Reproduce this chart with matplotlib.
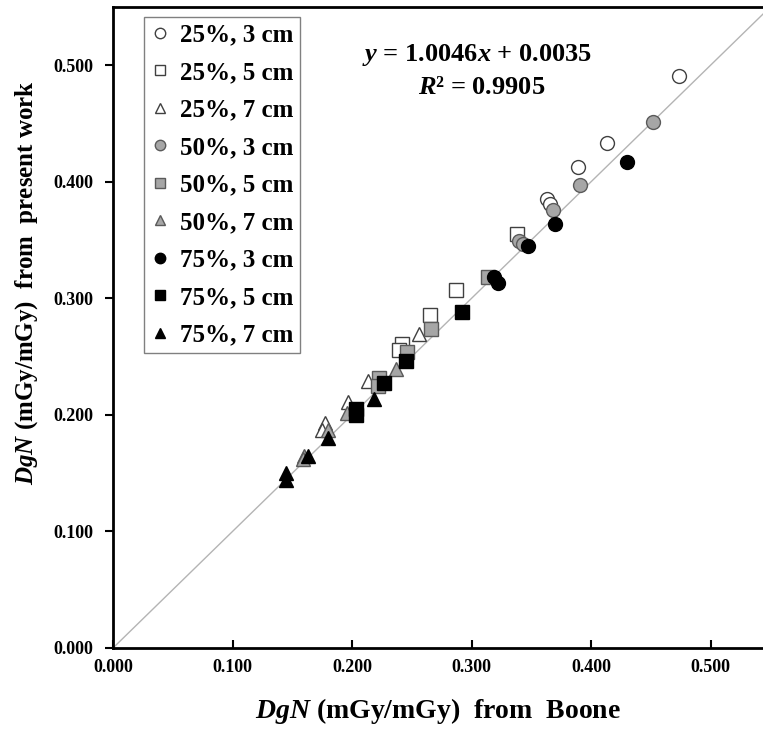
import matplotlib
matplotlib.use("Agg")
import matplotlib.pyplot as plt

plt.rcParams['font.family'] = ['Liberation Serif', 'DejaVu Serif']
plt.rcParams['font.weight'] = 'bold'
plt.rcParams['mathtext.fontset'] = 'custom'
plt.rcParams['mathtext.rm'] = 'Liberation Serif:bold'
plt.rcParams['mathtext.it'] = 'Liberation Serif:italic:bold'
plt.rcParams['mathtext.bf'] = 'Liberation Serif:bold'

# DgN from Boone (x) vs DgN from present work (y)
boone_25_3 = [0.474, 0.413, 0.389, 0.363, 0.366]
work_25_3 = [0.491, 0.433, 0.413, 0.385, 0.381]
boone_25_5 = [0.338, 0.287, 0.265, 0.242, 0.239]
work_25_5 = [0.355, 0.307, 0.286, 0.261, 0.256]
boone_25_7 = [0.256, 0.213, 0.197, 0.177, 0.175]
work_25_7 = [0.269, 0.229, 0.211, 0.193, 0.187]
boone_50_3 = [0.452, 0.391, 0.368, 0.340, 0.343]
work_50_3 = [0.451, 0.397, 0.376, 0.349, 0.347]
boone_50_5 = [0.314, 0.266, 0.246, 0.223, 0.222]
work_50_5 = [0.318, 0.274, 0.254, 0.232, 0.225]
boone_50_7 = [0.237, 0.196, 0.180, 0.160, 0.159]
work_50_7 = [0.239, 0.202, 0.187, 0.165, 0.162]
boone_75_3 = [0.430, 0.370, 0.347, 0.319, 0.322]
work_75_3 = [0.417, 0.364, 0.345, 0.318, 0.313]
boone_75_5 = [0.292, 0.245, 0.227, 0.203, 0.203]
work_75_5 = [0.288, 0.246, 0.227, 0.205, 0.200]
boone_75_7 = [0.218, 0.180, 0.163, 0.145, 0.145]
work_75_7 = [0.214, 0.180, 0.165, 0.150, 0.144]

labels = ['25%, 3 cm', '25%, 5 cm', '25%, 7 cm',
          '50%, 3 cm', '50%, 5 cm', '50%, 7 cm',
          '75%, 3 cm', '75%, 5 cm', '75%, 7 cm']
xs = [boone_25_3, boone_25_5, boone_25_7, boone_50_3, boone_50_5, boone_50_7,
      boone_75_3, boone_75_5, boone_75_7]
ys = [work_25_3, work_25_5, work_25_7, work_50_3, work_50_5, work_50_7,
      work_75_3, work_75_5, work_75_7]
ticks = [0.0, 0.1, 0.2, 0.3, 0.4, 0.5]

markers = ['o', 's', '^'] * 3
faces = ['white'] * 3 + ['#a6a6a6'] * 3 + ['black'] * 3
edges = ['#404040'] * 3 + ['#5a5a5a'] * 3 + ['black'] * 3
sizes = [10, 10, 10.5] * 3

fig = plt.figure(figsize=(7.63, 7.31), dpi=100)
ax = fig.add_axes([113/763, 83/731, 650/763, 641/731])

ax.plot([0, 0.55], [0, 0.55], color='#b4b4b4', lw=1, zorder=1)

for i in range(len(labels)):
    ax.plot(xs[i], ys[i], linestyle='none', marker=markers[i], ms=sizes[i],
            mfc=faces[i], mec=edges[i], mew=1, label=labels[i], zorder=3)

ax.set_xlim(0, 650/1195)
ax.set_ylim(0, 0.55)
ax.set_xticks(ticks)
ax.set_yticks(ticks)
ax.set_xticklabels(['%.3f' % t for t in ticks])
ax.set_yticklabels(['%.3f' % t for t in ticks])
ax.tick_params(axis='x', direction='in', length=6, width=1.5, labelsize=13, pad=8)
ax.tick_params(axis='y', direction='out', length=6, width=1.5, labelsize=13, pad=8)

for s in ['left', 'bottom', 'top']:
    ax.spines[s].set_linewidth(2)
ax.spines['right'].set_visible(False)

ax.set_xlabel(r'$\mathit{DgN}$ (mGy/mGy)  from  Boone', fontsize=20,
              fontweight='bold', labelpad=14)
ax.set_ylabel(r'$\mathit{DgN}$ (mGy/mGy)  from  present work', fontsize=18,
              fontweight='bold')
ax.yaxis.set_label_coords(-0.112, 0.57)

ax.text(0.56, 0.925, r'$y$ = 1.0046$x$ + 0.0035', transform=ax.transAxes,
        fontsize=19, ha='center', va='center')
ax.text(0.567, 0.875, r'$R$² = 0.9905', transform=ax.transAxes,
        fontsize=19, ha='center', va='center')

leg = ax.legend(loc='upper left', bbox_to_anchor=(0.048, 0.984), borderaxespad=0,
                fontsize=18, markerscale=0.75, handlelength=0.8, handletextpad=0.4,
                labelspacing=0.58, borderpad=0.25, fancybox=False, framealpha=1)
leg.get_frame().set_edgecolor('#808080')
leg.get_frame().set_linewidth(1)

fig.savefig('out.png', dpi=100)
